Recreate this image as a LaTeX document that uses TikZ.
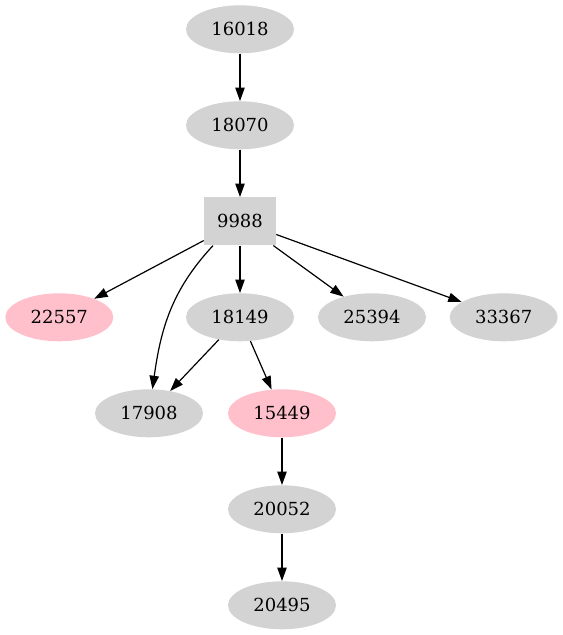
\documentclass[tikz,border=0pt]{standalone}
\usepackage{fontspec}
\setmainfont{DejaVu Serif}
\usetikzlibrary{arrows.meta,shapes.geometric}
\definecolor{nodegrey}{HTML}{D3D3D3}
\definecolor{nodepink}{HTML}{FFC0CB}
\begin{document}
\begin{tikzpicture}[x=0.75pt, y=-0.75pt,
    every node/.style={font=\fontsize{13.5}{16}\selectfont, inner sep=0pt},
    gnode/.style={ellipse, fill=nodegrey, minimum width=81pt, minimum height=36pt},
    pnode/.style={gnode, fill=nodepink},
    bnode/.style={rectangle, fill=nodegrey, minimum width=54pt, minimum height=36pt},
    edge/.style={line width=0.9pt, -{Triangle[length=10pt,width=7pt]}}]
        \useasboundingbox (0,0) rectangle (563,635);

        \node[gnode] (n16018) at (240, 29.3) {16018};
        \node[gnode] (n18070) at (240, 125.3) {18070};
        \node[bnode] (n9988) at (240, 221.3) {9988};

        \node[pnode] (n22557) at (59.3, 317.3) {22557};
        \node[gnode] (n18149) at (240, 317.3) {18149};
        \node[gnode] (n25394) at (372, 317.3) {25394};
        \node[gnode] (n33367) at (503.7, 317.3) {33367};

        \node[gnode] (n17908) at (149, 413.3) {17908};
        \node[pnode] (n15449) at (282, 413.3) {15449};
        \node[gnode] (n20052) at (282, 509.3) {20052};
        \node[gnode] (n20495) at (282, 605.3) {20495};

        \draw[edge] (n16018) -- (n18070);
        \draw[edge] (n18070) -- (n9988);

        \draw[edge] (n9988) -- (n22557);
        \draw[edge] (n9988.-138) to[out=-133, in=82] (n17908);
        \draw[edge] (n9988) -- (n18149);
        \draw[edge] (n9988) -- (n25394);
        \draw[edge] (n9988) -- (n33367);

        \draw[edge] (n18149) -- (n17908);
        \draw[edge] (n18149) -- (n15449);
        \draw[edge] (n15449) -- (n20052);
        \draw[edge] (n20052) -- (n20495);
\end{tikzpicture}
\end{document}
